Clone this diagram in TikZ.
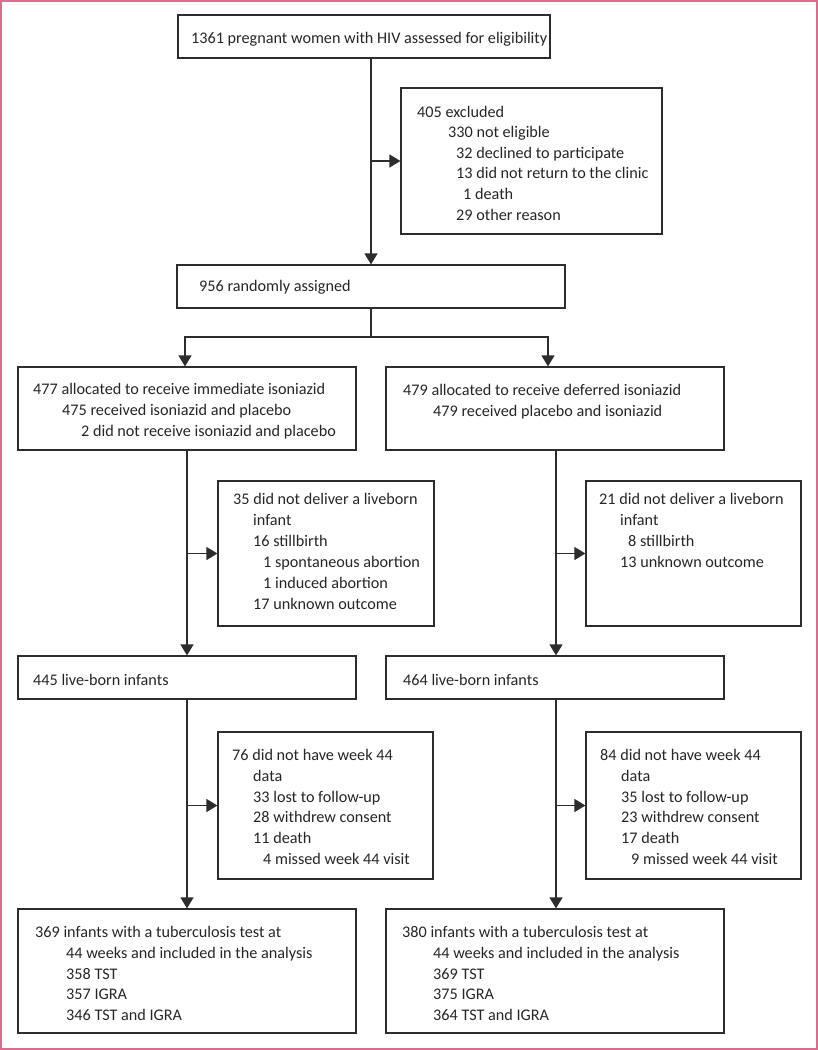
\documentclass[tikz,border=0pt]{standalone}
\usepackage{fontspec}
\setmainfont{Carlito}
\usetikzlibrary{arrows.meta}
\definecolor{frame}{RGB}{214,110,140}
\definecolor{ink}{RGB}{45,45,45}
\tikzset{
  box/.style={draw=ink, line width=1.2pt, rectangle, inner sep=0pt},
  txt/.style={anchor=base west, inner sep=0pt, font=\fontsize{16.2}{19}\selectfont, text=black!85},
  conn/.style={draw=ink, line width=1.3pt},
  arr/.style={conn, -{Triangle[length=11pt,width=13pt]}},
}
\newcommand{\boxat}[5]{\node[box, minimum width={(#4-#2)*1pt}, minimum height={(#5-#3)*1pt}] (#1) at ({(#2+#4)/2},{(#3+#5)/2}) {};}
\begin{document}
\begin{tikzpicture}[x=1pt,y=-1pt]
\path[use as bounding box] (0,0) rectangle (818,1050);
\draw[frame, line width=2pt] (1,1) rectangle (817,1049);
% boxes
\boxat{top}{178}{15}{550}{58}
\boxat{excl}{401}{88}{662}{234}
\boxat{rand}{177}{265}{565}{308}
\boxat{allocL}{18}{367}{356}{450}
\boxat{allocR}{386}{367}{724}{450}
\boxat{exL}{218}{481}{434}{626}
\boxat{exR}{586}{481}{801}{626}
\boxat{liveL}{18}{656}{356}{699}
\boxat{liveR}{386}{656}{724}{699}
\boxat{miL}{218}{732}{433}{879}
\boxat{miR}{586}{732}{801}{879}
\boxat{finL}{18}{909}{356}{1033}
\boxat{finR}{386}{909}{724}{1033}
% helper coordinates
\coordinate (spine) at (371,0);
\coordinate (sp) at (371,337);
\coordinate (sL) at (185,0);
\coordinate (sR) at (548,0);
\coordinate (cL) at (187,0);
\coordinate (cR) at (556,0);
% connectors
\draw[arr] (top.south -| spine) -- (rand.north -| spine);
\draw[arr] (excl.west -| spine) -- (excl.west);
\draw[conn] (rand.south -| spine) -- (sp);
\draw[arr] (sp) -| (allocL.north -| sL);
\draw[arr] (sp) -| (allocR.north -| sR);
\draw[arr] (allocL.south -| cL) -- (liveL.north -| cL);
\draw[arr] (allocR.south -| cR) -- (liveR.north -| cR);
\draw[arr] (exL.west -| cL) -- (exL.west);
\draw[arr] (exR.west -| cR) -- (exR.west);
\draw[arr] (liveL.south -| cL) -- (finL.north -| cL);
\draw[arr] (liveR.south -| cR) -- (finR.north -| cR);
\draw[arr] (miL.west -| cL) -- (miL.west);
\draw[arr] (miR.west -| cR) -- (miR.west);
% texts
\node[txt] (t1) at (191,43) {1361 pregnant women with HIV assessed for eligibility};
\node[txt] (e1) at (417,117) {405 excluded};
\node[txt] (e2) at (448,137.5) {330 not eligible};
\node[txt] (e3) at (456,158) {32 declined to participate};
\node[txt] (e4) at (456,178.5) {13 did not return to the clinic};
\node[txt] (e5) at (463,199) {1 death};
\node[txt] (e6) at (456,220) {29 other reason};
\node[txt] (r1) at (199,291) {956 randomly assigned};
\node[txt] (aL1) at (33,394) {477 allocated to receive immediate isoniazid};
\node[txt] (aL2) at (62,415) {475 received isoniazid and placebo};
\node[txt] (aL3) at (81,436) {2 did not receive isoniazid and placebo};
\node[txt] (aR1) at (403,395) {479 allocated to receive deferred isoniazid};
\node[txt] (aR2) at (433,416) {479 received placebo and isoniazid};
\node[txt] (xL1) at (233,504) {35 did not deliver a liveborn};
\node[txt] (xL2) at (253,525) {infant};
\node[txt] (xL3) at (253,546) {16 stillbirth};
\node[txt] (xL4) at (263,567) {1 spontaneous abortion};
\node[txt] (xL5) at (263,588) {1 induced abortion};
\node[txt] (xL6) at (253,609) {17 unknown outcome};
\node[txt] (xR1) at (599,504) {21 did not deliver a liveborn};
\node[txt] (xR2) at (620,525) {infant};
\node[txt] (xR3) at (628,546) {8 stillbirth};
\node[txt] (xR4) at (620,567) {13 unknown outcome};
\node[txt] (lL) at (33,685) {445 live-born infants};
\node[txt] (lR) at (403,685) {464 live-born infants};
\node[txt] (mL1) at (232,760) {76 did not have week 44};
\node[txt] (mL2) at (253,781) {data};
\node[txt] (mL3) at (253,802) {33 lost to follow-up};
\node[txt] (mL4) at (253,822.5) {28 withdrew consent};
\node[txt] (mL5) at (253,843) {11 death};
\node[txt] (mL6) at (263,864) {4 missed week 44 visit};
\node[txt] (mR1) at (600,760) {84 did not have week 44};
\node[txt] (mR2) at (621,781) {data};
\node[txt] (mR3) at (621,802) {35 lost to follow-up};
\node[txt] (mR4) at (621,822.5) {23 withdrew consent};
\node[txt] (mR5) at (621,843) {17 death};
\node[txt] (mR6) at (631,864) {9 missed week 44 visit};
\node[txt] (fL1) at (35,937) {369 infants with a tuberculosis test at};
\node[txt] (fL2) at (66,958) {44 weeks and included in the analysis};
\node[txt] (fL3) at (66,979) {358 TST};
\node[txt] (fL4) at (66,999.5) {357 IGRA};
\node[txt] (fL5) at (66,1020) {346 TST and IGRA};
\node[txt] (fR1) at (402,937) {380 infants with a tuberculosis test at};
\node[txt] (fR2) at (433,958) {44 weeks and included in the analysis};
\node[txt] (fR3) at (433,979) {369 TST};
\node[txt] (fR4) at (433,999.5) {375 IGRA};
\node[txt] (fR5) at (433,1020) {364 TST and IGRA};
\end{tikzpicture}
\end{document}
